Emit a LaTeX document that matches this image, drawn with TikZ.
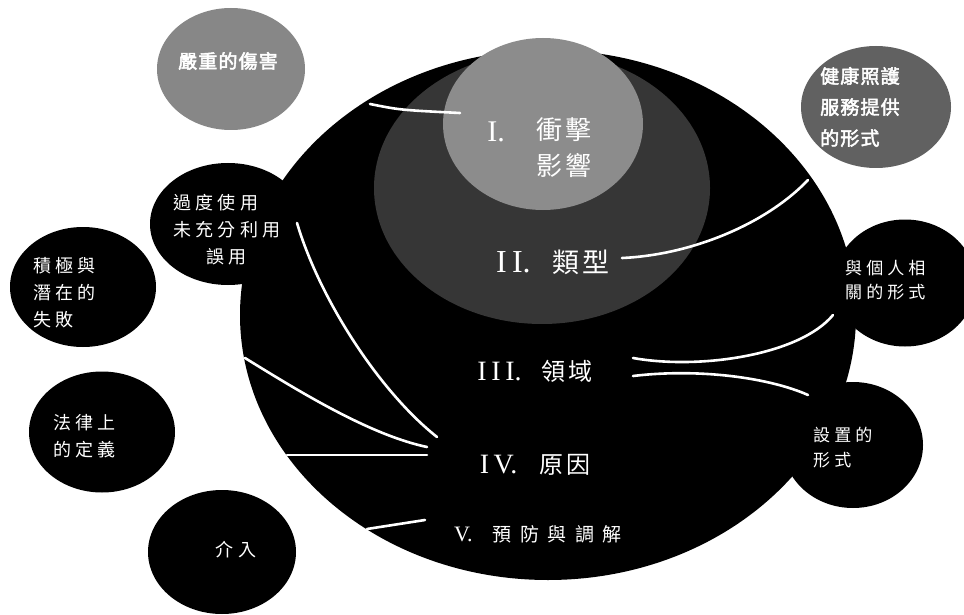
\documentclass[tikz,border=0pt]{standalone}
\usepackage{fontspec}
\usetikzlibrary{shapes.geometric}
\newfontfamily\cjksm[LetterSpace=24]{Noto Sans CJK TC}
\newfontfamily\cjkbold[FakeBold=2.5,LetterSpace=6]{Noto Sans CJK TC}
\newfontfamily\cjkbig[LetterSpace=12]{Noto Sans CJK TC}
\newfontfamily\cjkwide[LetterSpace=45]{Noto Sans CJK TC}
\newfontfamily\romfont{Liberation Serif}
\tikzset{
  blob/.style={ellipse, fill=black, inner sep=0pt, outer sep=0pt},
  smalltxt/.style={text=white, inner sep=0pt, align=left, font=\cjksm\fontsize{18}{27}\selectfont},
  graytxt/.style={text=white, inner sep=0pt, align=left, font=\cjkbold\fontsize{19}{31}\selectfont},
  maintxt/.style={text=white, inner sep=0pt},
  wire/.style={draw=white, line width=2.6pt, line cap=round}
}
\begin{document}
\begin{tikzpicture}[x=1pt,y=-1pt]
\useasboundingbox (0,0) rectangle (964,615);
\fill[white] (0,0) rectangle (964,615);

% outer circles
\node[blob, fill=black!47, minimum width=148pt, minimum height=122pt] (harm) at (231,69) {};
\node[blob, fill=black!62, minimum width=150pt, minimum height=122pt] (health) at (876,107) {};
\node[blob, minimum width=156pt, minimum height=122pt] (misuse) at (228,224) {};
\node[blob, minimum width=146pt, minimum height=120pt] (fail) at (83,287) {};
\node[blob, minimum width=146pt, minimum height=121pt] (legal) at (102,432) {};
\node[blob, minimum width=148pt, minimum height=124pt] (interv) at (222,552) {};
\node[blob, minimum width=142pt, minimum height=127pt] (personal) at (905,283) {};
\node[blob, minimum width=140pt, minimum height=126pt] (setting) at (853,445) {};

% main ellipses
\node[blob, minimum width=616pt, minimum height=530pt] (big) at (548,315) {};
\node[blob, fill=black!79, minimum width=336pt, minimum height=272pt] (type) at (542,188) {};
\node[blob, fill=black!45, minimum width=200pt, minimum height=172pt] (impact) at (543,124) {};

% connector end points
\coordinate (h1) at (370,104);
\coordinate (h2) at (460,113);
\coordinate (t1) at (622,258);
\coordinate (t2) at (808,180);
\coordinate (d1) at (633,358);
\coordinate (d2) at (833,315);
\coordinate (d3) at (633,376);
\coordinate (d4) at (808,395);
\coordinate (m1) at (297,223);
\coordinate (m2) at (437,437);
\coordinate (f1) at (245,358);
\coordinate (f2) at (427,447);
\coordinate (l1) at (287,455);
\coordinate (l2) at (427,455);
\coordinate (i1) at (367,529);
\coordinate (i2) at (425,520);

\draw[wire] (h1) .. controls (400,110) .. (h2);
\draw[wire] (t1) .. controls (690,255) and (765,225) .. (t2);
\draw[wire] (d1) .. controls (700,370) and (800,355) .. (d2);
\draw[wire] (d3) .. controls (700,368) and (770,378) .. (d4);
\draw[wire] (m1) .. controls (320,300) and (380,392) .. (m2);
\draw[wire] (f1) .. controls (300,392) and (370,435) .. (f2);
\draw[wire] (l1) -- (l2);
\draw[wire] (i1) -- (i2);

% texts
\node[graytxt] (harmt) at (228,61) {嚴重的傷害};
\node[graytxt, anchor=west] (healtht) at (820,107) {健康照護\\服務提供\\的形式};
\node[smalltxt, anchor=west] (misuset) at (173,230) {過度使用\\未充分利用\\\hspace{33pt}誤用};
\node[smalltxt, anchor=west] (failt) at (33,293) {積極與\\潛在的\\失敗};
\node[smalltxt, anchor=west] (legalt) at (53,436) {法律上\\的定義};
\node[smalltxt] (intervt) at (236,550) {介入};
\node[smalltxt, font=\cjksm\fontsize{17}{24}\selectfont, anchor=west] (personalt) at (845,280) {與個人相\\關的形式};
\node[smalltxt, font=\cjksm\fontsize{17}{25}\selectfont, anchor=west] (settingt) at (813,448) {設置的\\形式};

\node[maintxt, font=\romfont\fontsize{30}{30}\selectfont] (n1) at (496,132) {I.};
\node[maintxt, align=center, font=\cjkbig\fontsize{26}{36}\selectfont] (impactt) at (564,148) {衝擊\\影響};
\node[maintxt] (typet) at (553,262) {{\romfont\fontsize{32}{32}\selectfont I\,I.}\hspace{22pt}{\cjkbig\fontsize{27}{30}\selectfont 類型}};
\node[maintxt] (domaint) at (535,371) {{\romfont\fontsize{28}{28}\selectfont I\,I\,I.}\hspace{20pt}{\cjkbig\fontsize{24}{30}\selectfont 領域}};
\node[maintxt] (causet) at (535,465) {{\romfont\fontsize{28}{28}\selectfont I\,V.}\hspace{22pt}{\cjkbig\fontsize{24}{30}\selectfont 原因}};
\node[maintxt] (prevt) at (538,534) {{\romfont\fontsize{22}{22}\selectfont V.}\hspace{20pt}{\cjkwide\fontsize{19}{24}\selectfont 預防與調解}};
\end{tikzpicture}
\end{document}
